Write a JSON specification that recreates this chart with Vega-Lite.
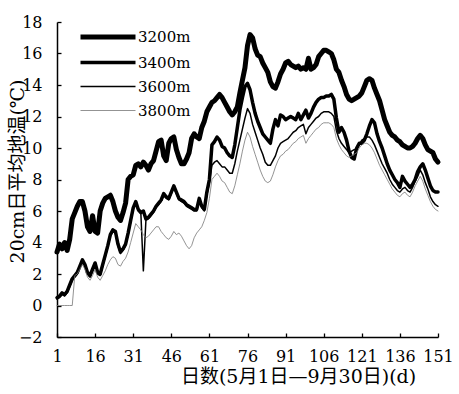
{
"$schema":"https://vega.github.io/schema/vega-lite/v6.json",
"width":381,"height":315,
"autosize":{"type":"none"},
"padding":{"left":57,"top":22,"right":21,"bottom":57},
"background":"white",
"config":{"view":{"stroke":null},
"style":{"guide-label":{"font":"DejaVu Serif","fontSize":16,"fill":"black"},"guide-title":{"font":"DejaVu Serif, Noto Sans CJK SC","fontSize":19,"fontWeight":"normal","fill":"black"}},
"axis":{"grid":false,"domainColor":"black","domainWidth":1.5,"tickColor":"black","tickWidth":1.3,"tickSize":-4,"labelFont":"DejaVu Serif","labelFontSize":16,"labelColor":"black","labelOverlap":false,"labelFlush":false,"titleFont":"DejaVu Serif, Noto Sans CJK SC","titleFontSize":19,"titleFontWeight":"normal","titleColor":"black"}},
"data":{"values":[
{"d":1,"s":"3200m","t":3.4},{"d":2,"s":"3200m","t":3.9},{"d":3,"s":"3200m","t":3.6},{"d":4,"s":"3200m","t":4.0},{"d":5,"s":"3200m","t":3.5},{"d":6,"s":"3200m","t":4.2},{"d":7,"s":"3200m","t":5.5},{"d":8,"s":"3200m","t":5.9},{"d":9,"s":"3200m","t":6.3},{"d":10,"s":"3200m","t":6.6},
{"d":11,"s":"3200m","t":6.6},{"d":12,"s":"3200m","t":6.0},{"d":13,"s":"3200m","t":5.0},{"d":14,"s":"3200m","t":4.7},{"d":15,"s":"3200m","t":5.7},{"d":16,"s":"3200m","t":4.7},{"d":17,"s":"3200m","t":4.6},{"d":18,"s":"3200m","t":6.0},{"d":19,"s":"3200m","t":6.5},{"d":20,"s":"3200m","t":6.8},
{"d":21,"s":"3200m","t":6.9},{"d":22,"s":"3200m","t":7.0},{"d":23,"s":"3200m","t":6.6},{"d":24,"s":"3200m","t":6.0},{"d":25,"s":"3200m","t":5.6},{"d":26,"s":"3200m","t":5.4},{"d":27,"s":"3200m","t":5.9},{"d":28,"s":"3200m","t":6.5},{"d":29,"s":"3200m","t":8.0},{"d":30,"s":"3200m","t":8.2},
{"d":31,"s":"3200m","t":8.3},{"d":32,"s":"3200m","t":8.9},{"d":33,"s":"3200m","t":9.0},{"d":34,"s":"3200m","t":8.8},{"d":35,"s":"3200m","t":9.1},{"d":36,"s":"3200m","t":8.9},{"d":37,"s":"3200m","t":8.6},{"d":38,"s":"3200m","t":9.0},{"d":39,"s":"3200m","t":9.2},{"d":40,"s":"3200m","t":9.8},
{"d":41,"s":"3200m","t":10.4},{"d":42,"s":"3200m","t":10.5},{"d":43,"s":"3200m","t":9.5},{"d":44,"s":"3200m","t":9.2},{"d":45,"s":"3200m","t":10.3},{"d":46,"s":"3200m","t":10.6},{"d":47,"s":"3200m","t":10.7},{"d":48,"s":"3200m","t":9.9},{"d":49,"s":"3200m","t":9.4},{"d":50,"s":"3200m","t":9.0},
{"d":51,"s":"3200m","t":9.0},{"d":52,"s":"3200m","t":9.3},{"d":53,"s":"3200m","t":9.7},{"d":54,"s":"3200m","t":10.6},{"d":55,"s":"3200m","t":10.9},{"d":56,"s":"3200m","t":10.7},{"d":57,"s":"3200m","t":10.6},{"d":58,"s":"3200m","t":11.3},{"d":59,"s":"3200m","t":11.7},{"d":60,"s":"3200m","t":12.3},
{"d":61,"s":"3200m","t":12.6},{"d":62,"s":"3200m","t":12.9},{"d":63,"s":"3200m","t":13.0},{"d":64,"s":"3200m","t":13.2},{"d":65,"s":"3200m","t":13.4},{"d":66,"s":"3200m","t":13.2},{"d":67,"s":"3200m","t":12.9},{"d":68,"s":"3200m","t":12.6},{"d":69,"s":"3200m","t":12.3},{"d":70,"s":"3200m","t":12.1},
{"d":71,"s":"3200m","t":12.3},{"d":72,"s":"3200m","t":12.6},{"d":73,"s":"3200m","t":13.5},{"d":74,"s":"3200m","t":14.3},{"d":75,"s":"3200m","t":15.1},{"d":76,"s":"3200m","t":16.5},{"d":77,"s":"3200m","t":17.2},{"d":78,"s":"3200m","t":17.0},{"d":79,"s":"3200m","t":16.3},{"d":80,"s":"3200m","t":15.9},
{"d":81,"s":"3200m","t":15.8},{"d":82,"s":"3200m","t":15.4},{"d":83,"s":"3200m","t":15.1},{"d":84,"s":"3200m","t":14.8},{"d":85,"s":"3200m","t":14.2},{"d":86,"s":"3200m","t":13.9},{"d":87,"s":"3200m","t":13.8},{"d":88,"s":"3200m","t":14.2},{"d":89,"s":"3200m","t":14.7},{"d":90,"s":"3200m","t":15.0},
{"d":91,"s":"3200m","t":15.4},{"d":92,"s":"3200m","t":15.5},{"d":93,"s":"3200m","t":15.3},{"d":94,"s":"3200m","t":15.2},{"d":95,"s":"3200m","t":15.1},{"d":96,"s":"3200m","t":15.2},{"d":97,"s":"3200m","t":15.0},{"d":98,"s":"3200m","t":15.1},{"d":99,"s":"3200m","t":15.0},{"d":100,"s":"3200m","t":15.7},
{"d":101,"s":"3200m","t":15.0},{"d":102,"s":"3200m","t":15.1},{"d":103,"s":"3200m","t":15.3},{"d":104,"s":"3200m","t":15.8},{"d":105,"s":"3200m","t":16.0},{"d":106,"s":"3200m","t":16.2},{"d":107,"s":"3200m","t":16.2},{"d":108,"s":"3200m","t":16.1},{"d":109,"s":"3200m","t":16.0},{"d":110,"s":"3200m","t":15.6},
{"d":111,"s":"3200m","t":15.0},{"d":112,"s":"3200m","t":14.8},{"d":113,"s":"3200m","t":14.3},{"d":114,"s":"3200m","t":13.9},{"d":115,"s":"3200m","t":13.4},{"d":116,"s":"3200m","t":13.1},{"d":117,"s":"3200m","t":13.0},{"d":118,"s":"3200m","t":13.1},{"d":119,"s":"3200m","t":13.2},{"d":120,"s":"3200m","t":13.3},
{"d":121,"s":"3200m","t":13.5},{"d":122,"s":"3200m","t":13.9},{"d":123,"s":"3200m","t":14.3},{"d":124,"s":"3200m","t":14.4},{"d":125,"s":"3200m","t":14.3},{"d":126,"s":"3200m","t":13.8},{"d":127,"s":"3200m","t":13.4},{"d":128,"s":"3200m","t":13.0},{"d":129,"s":"3200m","t":12.4},{"d":130,"s":"3200m","t":11.8},
{"d":131,"s":"3200m","t":11.4},{"d":132,"s":"3200m","t":11.0},{"d":133,"s":"3200m","t":10.8},{"d":134,"s":"3200m","t":10.7},{"d":135,"s":"3200m","t":10.5},{"d":136,"s":"3200m","t":10.4},{"d":137,"s":"3200m","t":10.2},{"d":138,"s":"3200m","t":10.1},{"d":139,"s":"3200m","t":10.0},{"d":140,"s":"3200m","t":10.0},
{"d":141,"s":"3200m","t":10.1},{"d":142,"s":"3200m","t":10.3},{"d":143,"s":"3200m","t":10.6},{"d":144,"s":"3200m","t":10.8},{"d":145,"s":"3200m","t":10.6},{"d":146,"s":"3200m","t":10.2},{"d":147,"s":"3200m","t":9.9},{"d":148,"s":"3200m","t":9.8},{"d":149,"s":"3200m","t":9.7},{"d":150,"s":"3200m","t":9.3},{"d":151,"s":"3200m","t":9.1},

{"d":1,"s":"3400m","t":0.5},{"d":2,"s":"3400m","t":0.6},{"d":3,"s":"3400m","t":0.8},{"d":4,"s":"3400m","t":0.7},{"d":5,"s":"3400m","t":0.9},{"d":6,"s":"3400m","t":1.3},{"d":7,"s":"3400m","t":1.7},{"d":8,"s":"3400m","t":1.9},{"d":9,"s":"3400m","t":2.1},{"d":10,"s":"3400m","t":2.5},
{"d":11,"s":"3400m","t":2.9},{"d":12,"s":"3400m","t":2.6},{"d":13,"s":"3400m","t":2.1},{"d":14,"s":"3400m","t":1.9},{"d":15,"s":"3400m","t":2.3},{"d":16,"s":"3400m","t":2.7},{"d":17,"s":"3400m","t":2.1},{"d":18,"s":"3400m","t":2.0},{"d":19,"s":"3400m","t":2.6},{"d":20,"s":"3400m","t":3.2},
{"d":21,"s":"3400m","t":3.8},{"d":22,"s":"3400m","t":4.5},{"d":23,"s":"3400m","t":4.8},{"d":24,"s":"3400m","t":4.7},{"d":25,"s":"3400m","t":3.9},{"d":26,"s":"3400m","t":3.4},{"d":27,"s":"3400m","t":3.6},{"d":28,"s":"3400m","t":3.9},{"d":29,"s":"3400m","t":4.6},{"d":30,"s":"3400m","t":5.4},
{"d":31,"s":"3400m","t":6.2},{"d":32,"s":"3400m","t":6.6},{"d":33,"s":"3400m","t":6.1},{"d":34,"s":"3400m","t":5.9},{"d":35,"s":"3400m","t":6.0},{"d":36,"s":"3400m","t":5.5},{"d":37,"s":"3400m","t":5.6},{"d":38,"s":"3400m","t":5.8},{"d":39,"s":"3400m","t":6.0},{"d":40,"s":"3400m","t":6.3},
{"d":41,"s":"3400m","t":6.5},{"d":42,"s":"3400m","t":6.7},{"d":43,"s":"3400m","t":7.1},{"d":44,"s":"3400m","t":6.9},{"d":45,"s":"3400m","t":6.8},{"d":46,"s":"3400m","t":7.2},{"d":47,"s":"3400m","t":7.6},{"d":48,"s":"3400m","t":7.2},{"d":49,"s":"3400m","t":6.8},{"d":50,"s":"3400m","t":6.7},
{"d":51,"s":"3400m","t":6.6},{"d":52,"s":"3400m","t":6.4},{"d":53,"s":"3400m","t":6.3},{"d":54,"s":"3400m","t":6.2},{"d":55,"s":"3400m","t":6.1},{"d":56,"s":"3400m","t":6.1},{"d":57,"s":"3400m","t":6.8},{"d":58,"s":"3400m","t":6.3},{"d":59,"s":"3400m","t":6.1},{"d":60,"s":"3400m","t":7.2},
{"d":61,"s":"3400m","t":8.0},{"d":62,"s":"3400m","t":10.2},{"d":63,"s":"3400m","t":10.4},{"d":64,"s":"3400m","t":10.7},{"d":65,"s":"3400m","t":10.5},{"d":66,"s":"3400m","t":10.1},{"d":67,"s":"3400m","t":10.0},{"d":68,"s":"3400m","t":9.7},{"d":69,"s":"3400m","t":9.5},{"d":70,"s":"3400m","t":9.4},
{"d":71,"s":"3400m","t":10.2},{"d":72,"s":"3400m","t":11.3},{"d":73,"s":"3400m","t":12.4},{"d":74,"s":"3400m","t":13.2},{"d":75,"s":"3400m","t":13.9},{"d":76,"s":"3400m","t":14.1},{"d":77,"s":"3400m","t":13.7},{"d":78,"s":"3400m","t":12.9},{"d":79,"s":"3400m","t":12.2},{"d":80,"s":"3400m","t":11.7},
{"d":81,"s":"3400m","t":11.3},{"d":82,"s":"3400m","t":10.9},{"d":83,"s":"3400m","t":10.7},{"d":84,"s":"3400m","t":10.5},{"d":85,"s":"3400m","t":10.3},{"d":86,"s":"3400m","t":11.2},{"d":87,"s":"3400m","t":11.8},{"d":88,"s":"3400m","t":11.4},{"d":89,"s":"3400m","t":12.1},{"d":90,"s":"3400m","t":12.0},
{"d":91,"s":"3400m","t":11.8},{"d":92,"s":"3400m","t":11.9},{"d":93,"s":"3400m","t":12.0},{"d":94,"s":"3400m","t":11.9},{"d":95,"s":"3400m","t":11.8},{"d":96,"s":"3400m","t":12.2},{"d":97,"s":"3400m","t":11.8},{"d":98,"s":"3400m","t":12.1},{"d":99,"s":"3400m","t":12.4},{"d":100,"s":"3400m","t":11.9},
{"d":101,"s":"3400m","t":12.2},{"d":102,"s":"3400m","t":12.6},{"d":103,"s":"3400m","t":12.9},{"d":104,"s":"3400m","t":13.1},{"d":105,"s":"3400m","t":13.2},{"d":106,"s":"3400m","t":13.2},{"d":107,"s":"3400m","t":13.3},{"d":108,"s":"3400m","t":13.3},{"d":109,"s":"3400m","t":13.4},{"d":110,"s":"3400m","t":13.1},
{"d":111,"s":"3400m","t":11.9},{"d":112,"s":"3400m","t":11.0},{"d":113,"s":"3400m","t":11.3},{"d":114,"s":"3400m","t":11.0},{"d":115,"s":"3400m","t":10.5},{"d":116,"s":"3400m","t":9.8},{"d":117,"s":"3400m","t":9.4},{"d":118,"s":"3400m","t":9.3},{"d":119,"s":"3400m","t":10.0},{"d":120,"s":"3400m","t":10.3},
{"d":121,"s":"3400m","t":10.3},{"d":122,"s":"3400m","t":10.5},{"d":123,"s":"3400m","t":10.9},{"d":124,"s":"3400m","t":11.4},{"d":125,"s":"3400m","t":11.8},{"d":126,"s":"3400m","t":11.6},{"d":127,"s":"3400m","t":10.9},{"d":128,"s":"3400m","t":10.4},{"d":129,"s":"3400m","t":10.0},{"d":130,"s":"3400m","t":9.5},
{"d":131,"s":"3400m","t":9.0},{"d":132,"s":"3400m","t":8.6},{"d":133,"s":"3400m","t":8.3},{"d":134,"s":"3400m","t":8.0},{"d":135,"s":"3400m","t":7.8},{"d":136,"s":"3400m","t":7.5},{"d":137,"s":"3400m","t":8.2},{"d":138,"s":"3400m","t":7.9},{"d":139,"s":"3400m","t":7.7},{"d":140,"s":"3400m","t":7.5},
{"d":141,"s":"3400m","t":7.7},{"d":142,"s":"3400m","t":8.0},{"d":143,"s":"3400m","t":8.5},{"d":144,"s":"3400m","t":8.8},{"d":145,"s":"3400m","t":9.0},{"d":146,"s":"3400m","t":8.6},{"d":147,"s":"3400m","t":8.1},{"d":148,"s":"3400m","t":7.6},{"d":149,"s":"3400m","t":7.3},{"d":150,"s":"3400m","t":7.2},{"d":151,"s":"3400m","t":7.2},

{"d":1,"s":"3600m","t":0.4},{"d":2,"s":"3600m","t":0.5},{"d":3,"s":"3600m","t":0.7},{"d":4,"s":"3600m","t":0.6},{"d":5,"s":"3600m","t":0.8},{"d":6,"s":"3600m","t":1.2},{"d":7,"s":"3600m","t":1.6},{"d":8,"s":"3600m","t":1.8},{"d":9,"s":"3600m","t":2.0},{"d":10,"s":"3600m","t":2.4},
{"d":11,"s":"3600m","t":2.8},{"d":12,"s":"3600m","t":2.5},{"d":13,"s":"3600m","t":2.0},{"d":14,"s":"3600m","t":1.8},{"d":15,"s":"3600m","t":2.2},{"d":16,"s":"3600m","t":2.6},{"d":17,"s":"3600m","t":2.0},{"d":18,"s":"3600m","t":1.9},{"d":19,"s":"3600m","t":2.5},{"d":20,"s":"3600m","t":3.1},
{"d":21,"s":"3600m","t":3.7},{"d":22,"s":"3600m","t":4.4},{"d":23,"s":"3600m","t":4.7},{"d":24,"s":"3600m","t":4.6},{"d":25,"s":"3600m","t":3.8},{"d":26,"s":"3600m","t":3.3},{"d":27,"s":"3600m","t":3.5},{"d":28,"s":"3600m","t":3.8},{"d":29,"s":"3600m","t":4.5},{"d":30,"s":"3600m","t":5.3},
{"d":31,"s":"3600m","t":6.1},{"d":32,"s":"3600m","t":6.5},{"d":33,"s":"3600m","t":6.0},{"d":34,"s":"3600m","t":5.9},{"d":35,"s":"3600m","t":2.2},{"d":36,"s":"3600m","t":5.4},{"d":37,"s":"3600m","t":5.5},{"d":38,"s":"3600m","t":5.7},{"d":39,"s":"3600m","t":5.9},{"d":40,"s":"3600m","t":6.2},
{"d":41,"s":"3600m","t":6.4},{"d":42,"s":"3600m","t":6.6},{"d":43,"s":"3600m","t":7.0},{"d":44,"s":"3600m","t":6.8},{"d":45,"s":"3600m","t":6.7},{"d":46,"s":"3600m","t":7.1},{"d":47,"s":"3600m","t":7.5},{"d":48,"s":"3600m","t":7.1},{"d":49,"s":"3600m","t":6.7},{"d":50,"s":"3600m","t":6.6},
{"d":51,"s":"3600m","t":6.5},{"d":52,"s":"3600m","t":6.3},{"d":53,"s":"3600m","t":6.2},{"d":54,"s":"3600m","t":6.1},{"d":55,"s":"3600m","t":6.0},{"d":56,"s":"3600m","t":6.0},{"d":57,"s":"3600m","t":6.7},{"d":58,"s":"3600m","t":6.2},{"d":59,"s":"3600m","t":6.0},{"d":60,"s":"3600m","t":7.0},
{"d":61,"s":"3600m","t":7.8},{"d":62,"s":"3600m","t":8.9},{"d":63,"s":"3600m","t":9.1},{"d":64,"s":"3600m","t":9.2},{"d":65,"s":"3600m","t":9.0},{"d":66,"s":"3600m","t":8.8},{"d":67,"s":"3600m","t":8.8},{"d":68,"s":"3600m","t":8.6},{"d":69,"s":"3600m","t":8.4},{"d":70,"s":"3600m","t":8.4},
{"d":71,"s":"3600m","t":9.0},{"d":72,"s":"3600m","t":9.8},{"d":73,"s":"3600m","t":10.5},{"d":74,"s":"3600m","t":11.2},{"d":75,"s":"3600m","t":11.9},{"d":76,"s":"3600m","t":12.5},{"d":77,"s":"3600m","t":12.2},{"d":78,"s":"3600m","t":11.5},{"d":79,"s":"3600m","t":11.0},{"d":80,"s":"3600m","t":10.5},
{"d":81,"s":"3600m","t":10.0},{"d":82,"s":"3600m","t":9.6},{"d":83,"s":"3600m","t":9.1},{"d":84,"s":"3600m","t":8.9},{"d":85,"s":"3600m","t":8.9},{"d":86,"s":"3600m","t":9.2},{"d":87,"s":"3600m","t":9.5},{"d":88,"s":"3600m","t":10.0},{"d":89,"s":"3600m","t":10.3},{"d":90,"s":"3600m","t":10.4},
{"d":91,"s":"3600m","t":10.5},{"d":92,"s":"3600m","t":10.6},{"d":93,"s":"3600m","t":10.8},{"d":94,"s":"3600m","t":11.0},{"d":95,"s":"3600m","t":11.1},{"d":96,"s":"3600m","t":11.3},{"d":97,"s":"3600m","t":11.4},{"d":98,"s":"3600m","t":11.5},{"d":99,"s":"3600m","t":10.9},{"d":100,"s":"3600m","t":11.3},
{"d":101,"s":"3600m","t":11.5},{"d":102,"s":"3600m","t":11.7},{"d":103,"s":"3600m","t":11.9},{"d":104,"s":"3600m","t":12.0},{"d":105,"s":"3600m","t":12.2},{"d":106,"s":"3600m","t":12.3},{"d":107,"s":"3600m","t":12.3},{"d":108,"s":"3600m","t":12.3},{"d":109,"s":"3600m","t":12.2},{"d":110,"s":"3600m","t":12.0},
{"d":111,"s":"3600m","t":11.1},{"d":112,"s":"3600m","t":10.6},{"d":113,"s":"3600m","t":10.3},{"d":114,"s":"3600m","t":10.1},{"d":115,"s":"3600m","t":9.9},{"d":116,"s":"3600m","t":9.7},{"d":117,"s":"3600m","t":9.8},{"d":118,"s":"3600m","t":9.9},{"d":119,"s":"3600m","t":9.9},{"d":120,"s":"3600m","t":10.2},
{"d":121,"s":"3600m","t":10.5},{"d":122,"s":"3600m","t":10.6},{"d":123,"s":"3600m","t":10.7},{"d":124,"s":"3600m","t":10.7},{"d":125,"s":"3600m","t":10.5},{"d":126,"s":"3600m","t":10.2},{"d":127,"s":"3600m","t":9.8},{"d":128,"s":"3600m","t":9.4},{"d":129,"s":"3600m","t":9.0},{"d":130,"s":"3600m","t":8.7},
{"d":131,"s":"3600m","t":8.4},{"d":132,"s":"3600m","t":8.0},{"d":133,"s":"3600m","t":7.7},{"d":134,"s":"3600m","t":7.5},{"d":135,"s":"3600m","t":7.3},{"d":136,"s":"3600m","t":7.2},{"d":137,"s":"3600m","t":7.4},{"d":138,"s":"3600m","t":7.5},{"d":139,"s":"3600m","t":7.3},{"d":140,"s":"3600m","t":7.2},
{"d":141,"s":"3600m","t":7.5},{"d":142,"s":"3600m","t":7.9},{"d":143,"s":"3600m","t":8.2},{"d":144,"s":"3600m","t":8.6},{"d":145,"s":"3600m","t":8.3},{"d":146,"s":"3600m","t":7.8},{"d":147,"s":"3600m","t":7.4},{"d":148,"s":"3600m","t":6.9},{"d":149,"s":"3600m","t":6.6},{"d":150,"s":"3600m","t":6.4},{"d":151,"s":"3600m","t":6.3},

{"d":1,"s":"3800m","t":0.0},{"d":2,"s":"3800m","t":0.0},{"d":3,"s":"3800m","t":0.0},{"d":4,"s":"3800m","t":0.0},{"d":5,"s":"3800m","t":0.0},{"d":6,"s":"3800m","t":0.0},{"d":7,"s":"3800m","t":0.0},{"d":8,"s":"3800m","t":1.9},{"d":9,"s":"3800m","t":2.0},{"d":10,"s":"3800m","t":2.3},
{"d":11,"s":"3800m","t":2.6},{"d":12,"s":"3800m","t":2.3},{"d":13,"s":"3800m","t":1.8},{"d":14,"s":"3800m","t":1.6},{"d":15,"s":"3800m","t":1.9},{"d":16,"s":"3800m","t":2.3},{"d":17,"s":"3800m","t":1.8},{"d":18,"s":"3800m","t":1.6},{"d":19,"s":"3800m","t":1.9},{"d":20,"s":"3800m","t":2.2},
{"d":21,"s":"3800m","t":2.6},{"d":22,"s":"3800m","t":2.9},{"d":23,"s":"3800m","t":3.1},{"d":24,"s":"3800m","t":3.0},{"d":25,"s":"3800m","t":2.6},{"d":26,"s":"3800m","t":2.5},{"d":27,"s":"3800m","t":2.8},{"d":28,"s":"3800m","t":3.0},{"d":29,"s":"3800m","t":3.4},{"d":30,"s":"3800m","t":4.0},
{"d":31,"s":"3800m","t":4.6},{"d":32,"s":"3800m","t":5.2},{"d":33,"s":"3800m","t":5.0},{"d":34,"s":"3800m","t":4.8},{"d":35,"s":"3800m","t":4.5},{"d":36,"s":"3800m","t":4.3},{"d":37,"s":"3800m","t":4.4},{"d":38,"s":"3800m","t":4.6},{"d":39,"s":"3800m","t":4.8},{"d":40,"s":"3800m","t":5.0},
{"d":41,"s":"3800m","t":5.0},{"d":42,"s":"3800m","t":4.7},{"d":43,"s":"3800m","t":4.5},{"d":44,"s":"3800m","t":4.3},{"d":45,"s":"3800m","t":4.2},{"d":46,"s":"3800m","t":4.4},{"d":47,"s":"3800m","t":4.7},{"d":48,"s":"3800m","t":4.5},{"d":49,"s":"3800m","t":4.6},{"d":50,"s":"3800m","t":4.4},
{"d":51,"s":"3800m","t":4.1},{"d":52,"s":"3800m","t":3.8},{"d":53,"s":"3800m","t":3.6},{"d":54,"s":"3800m","t":3.8},{"d":55,"s":"3800m","t":4.3},{"d":56,"s":"3800m","t":4.6},{"d":57,"s":"3800m","t":4.8},{"d":58,"s":"3800m","t":5.0},{"d":59,"s":"3800m","t":5.4},{"d":60,"s":"3800m","t":5.9},
{"d":61,"s":"3800m","t":6.8},{"d":62,"s":"3800m","t":8.0},{"d":63,"s":"3800m","t":8.2},{"d":64,"s":"3800m","t":8.4},{"d":65,"s":"3800m","t":8.2},{"d":66,"s":"3800m","t":7.9},{"d":67,"s":"3800m","t":7.8},{"d":68,"s":"3800m","t":7.5},{"d":69,"s":"3800m","t":7.2},{"d":70,"s":"3800m","t":7.1},
{"d":71,"s":"3800m","t":7.6},{"d":72,"s":"3800m","t":8.3},{"d":73,"s":"3800m","t":9.0},{"d":74,"s":"3800m","t":9.8},{"d":75,"s":"3800m","t":10.5},{"d":76,"s":"3800m","t":11.0},{"d":77,"s":"3800m","t":10.7},{"d":78,"s":"3800m","t":10.1},{"d":79,"s":"3800m","t":9.6},{"d":80,"s":"3800m","t":9.1},
{"d":81,"s":"3800m","t":8.6},{"d":82,"s":"3800m","t":8.2},{"d":83,"s":"3800m","t":7.9},{"d":84,"s":"3800m","t":7.8},{"d":85,"s":"3800m","t":7.9},{"d":86,"s":"3800m","t":8.3},{"d":87,"s":"3800m","t":8.8},{"d":88,"s":"3800m","t":9.2},{"d":89,"s":"3800m","t":9.5},{"d":90,"s":"3800m","t":9.6},
{"d":91,"s":"3800m","t":9.8},{"d":92,"s":"3800m","t":9.9},{"d":93,"s":"3800m","t":10.1},{"d":94,"s":"3800m","t":10.3},{"d":95,"s":"3800m","t":10.4},{"d":96,"s":"3800m","t":10.6},{"d":97,"s":"3800m","t":10.7},{"d":98,"s":"3800m","t":10.8},{"d":99,"s":"3800m","t":10.3},{"d":100,"s":"3800m","t":10.6},
{"d":101,"s":"3800m","t":10.8},{"d":102,"s":"3800m","t":11.0},{"d":103,"s":"3800m","t":11.2},{"d":104,"s":"3800m","t":11.3},{"d":105,"s":"3800m","t":11.5},{"d":106,"s":"3800m","t":11.6},{"d":107,"s":"3800m","t":11.6},{"d":108,"s":"3800m","t":11.6},{"d":109,"s":"3800m","t":11.5},{"d":110,"s":"3800m","t":11.3},
{"d":111,"s":"3800m","t":10.6},{"d":112,"s":"3800m","t":10.2},{"d":113,"s":"3800m","t":9.9},{"d":114,"s":"3800m","t":9.7},{"d":115,"s":"3800m","t":9.5},{"d":116,"s":"3800m","t":9.4},{"d":117,"s":"3800m","t":9.5},{"d":118,"s":"3800m","t":9.6},{"d":119,"s":"3800m","t":9.7},{"d":120,"s":"3800m","t":10.0},
{"d":121,"s":"3800m","t":10.2},{"d":122,"s":"3800m","t":10.3},{"d":123,"s":"3800m","t":10.3},{"d":124,"s":"3800m","t":10.2},{"d":125,"s":"3800m","t":10.0},{"d":126,"s":"3800m","t":9.7},{"d":127,"s":"3800m","t":9.3},{"d":128,"s":"3800m","t":8.9},{"d":129,"s":"3800m","t":8.6},{"d":130,"s":"3800m","t":8.3},
{"d":131,"s":"3800m","t":8.0},{"d":132,"s":"3800m","t":7.7},{"d":133,"s":"3800m","t":7.4},{"d":134,"s":"3800m","t":7.2},{"d":135,"s":"3800m","t":7.0},{"d":136,"s":"3800m","t":6.9},{"d":137,"s":"3800m","t":7.1},{"d":138,"s":"3800m","t":7.2},{"d":139,"s":"3800m","t":7.0},{"d":140,"s":"3800m","t":6.9},
{"d":141,"s":"3800m","t":7.2},{"d":142,"s":"3800m","t":7.6},{"d":143,"s":"3800m","t":7.9},{"d":144,"s":"3800m","t":8.2},{"d":145,"s":"3800m","t":7.9},{"d":146,"s":"3800m","t":7.4},{"d":147,"s":"3800m","t":7.0},{"d":148,"s":"3800m","t":6.6},{"d":149,"s":"3800m","t":6.3},{"d":150,"s":"3800m","t":6.1},{"d":151,"s":"3800m","t":6.0}
]},
"mark":{"type":"line","strokeJoin":"round","strokeCap":"round"},
"encoding":{
"x":{"field":"d","type":"quantitative","scale":{"domain":[1,151],"nice":false,"zero":false},
"axis":{"values":[1,16,31,46,61,76,91,106,121,136,151],"labelFont":"DejaVu Serif","labelFontSize":16,"labelFlush":false,"labelPadding":15,"title":"日数(5月1日—9月30日)(d)","titleX":241,"titleY":39,"titleAlign":"center","titleBaseline":"middle"}},
"y":{"field":"t","type":"quantitative","scale":{"domain":[-2,18],"nice":false,"zero":false},
"axis":{"values":[-2,0,2,4,6,8,10,12,14,16,18],"labelFont":"DejaVu Serif","labelFontSize":16,"labelFlush":false,"labelPadding":19,"title":"20cm日平均地温(℃)","titleX":-40,"titleY":149,"titleAngle":-90,"titleAlign":"center","titleBaseline":"middle"}},
"color":{"field":"s","type":"nominal","scale":{"domain":["3200m","3400m","3600m","3800m"],"range":["#000000","#000000","#000000","#777777"]},
"legend":{"orient":"none","legendX":43,"legendY":7,"title":null,"symbolType":"M-5,0H5","symbolSize":121,"labelFont":"DejaVu Serif","labelFontSize":15,"labelColor":"black","rowPadding":8,"labelOffset":22}},
"strokeWidth":{"field":"s","type":"nominal","scale":{"type":"ordinal","domain":["3200m","3400m","3600m","3800m"],"range":[5,3.5,1.5,0.8]},
"legend":{"orient":"none","legendX":43,"legendY":7,"title":null,"symbolType":"M-5,0H5","symbolSize":121,"labelFont":"DejaVu Serif","labelFontSize":15,"labelColor":"black","rowPadding":8,"labelOffset":22}}
}
}
